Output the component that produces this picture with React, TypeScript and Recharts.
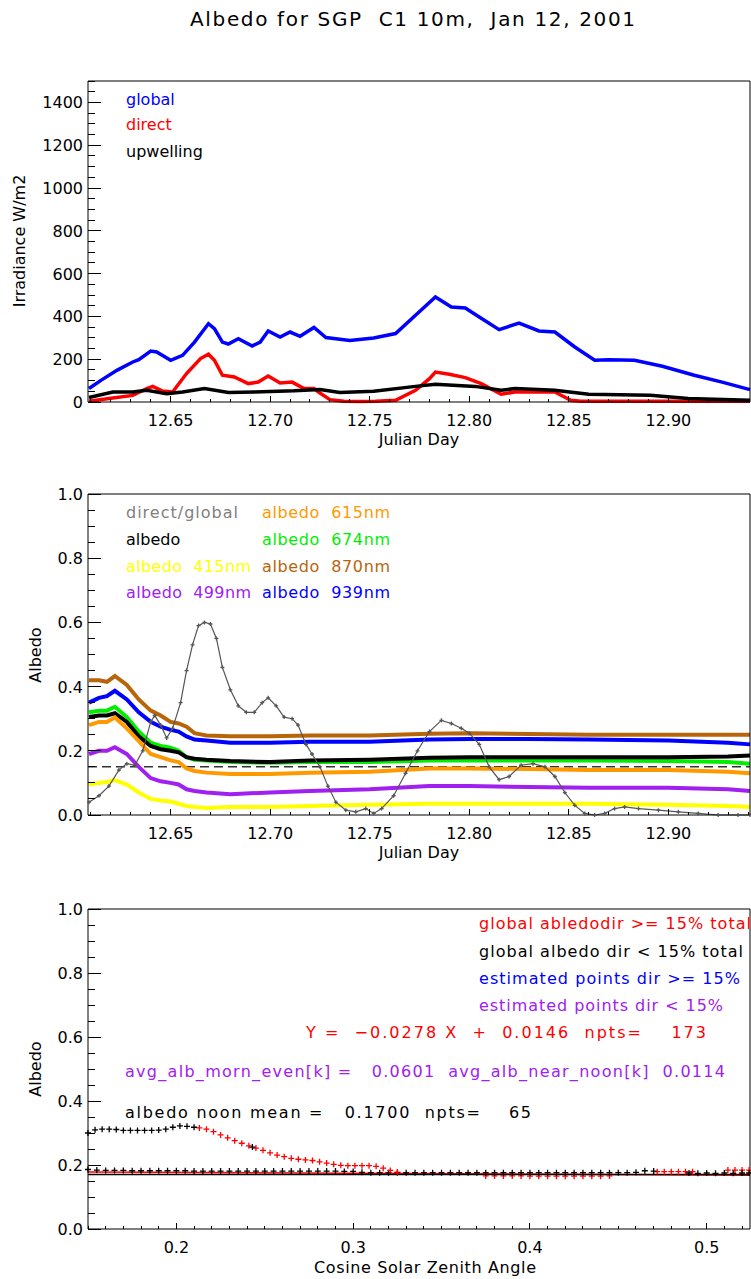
import React from 'react';
import { ComposedChart, Line, XAxis, YAxis, ReferenceLine } from 'recharts';

const FONT = '"DejaVu Sans", Verdana, sans-serif';

// ---------- Text ----------
const TITLE = 'Albedo for SGP  C1 10m,  Jan 12, 2001';

// ---------- Axes config ----------
const jdDomain = [12.6085, 12.941];
const jdMajor = [12.65, 12.7, 12.75, 12.8, 12.85, 12.9];
const jdLabels = ['12.65', '12.70', '12.75', '12.80', '12.85', '12.90'];
const irrDomain = [0, 1500];
const irrMajor = [0, 200, 400, 600, 800, 1000, 1200, 1400];
const albDomain = [0, 1];
const albMajor = [0, 0.2, 0.4, 0.6, 0.8, 1.0];
const cosDomain = [0.15, 0.5245];
const cosMajor = [0.2, 0.3, 0.4, 0.5];

// ---------- Panel 1: irradiance ----------
const globalX = [12.609, 12.615, 12.623, 12.631, 12.634, 12.640, 12.643, 12.650, 12.656, 12.662, 12.669, 12.672, 12.676, 12.679, 12.684, 12.691, 12.695, 12.699, 12.705, 12.710, 12.715, 12.722, 12.728, 12.740, 12.752, 12.763, 12.773, 12.783, 12.791, 12.798, 12.805, 12.815, 12.825, 12.835, 12.843, 12.853, 12.863, 12.870, 12.883, 12.897, 12.913, 12.927, 12.941];
const globalY = [63, 101, 148, 187, 198, 238, 234, 195, 218, 280, 366, 343, 280, 271, 296, 262, 280, 332, 304, 327, 307, 348, 301, 288, 299, 320, 405, 491, 444, 439, 397, 338, 369, 332, 327, 257, 195, 198, 195, 167, 125, 93, 58];
const directX = [12.609, 12.619, 12.631, 12.638, 12.641, 12.646, 12.651, 12.658, 12.665, 12.669, 12.672, 12.676, 12.682, 12.689, 12.694, 12.699, 12.705, 12.711, 12.717, 12.722, 12.725, 12.730, 12.737, 12.745, 12.753, 12.763, 12.773, 12.780, 12.783, 12.790, 12.798, 12.806, 12.816, 12.823, 12.835, 12.843, 12.851, 12.856, 12.900, 12.941];
const directY = [3, 16, 31, 63, 73, 51, 47, 133, 203, 223, 195, 125, 117, 86, 93, 121, 89, 93, 63, 63, 42, 11, 3, 2, 3, 8, 55, 109, 140, 130, 114, 86, 36, 47, 47, 47, 8, 3, 3, 3];
const upX = [12.609, 12.621, 12.631, 12.638, 12.648, 12.656, 12.667, 12.679, 12.692, 12.712, 12.725, 12.735, 12.752, 12.773, 12.783, 12.803, 12.816, 12.823, 12.843, 12.860, 12.891, 12.910, 12.941];
const upY = [21, 47, 47, 55, 39, 47, 63, 44, 47, 52, 58, 44, 50, 73, 83, 73, 55, 63, 55, 36, 31, 16, 8];

// ---------- Panel 2: albedo vs julian day ----------
const albX = [12.609, 12.614, 12.618, 12.622, 12.628, 12.634, 12.640, 12.645, 12.650, 12.654, 12.658, 12.662, 12.668, 12.680, 12.700, 12.720, 12.750, 12.780, 12.800, 12.830, 12.860, 12.900, 12.930, 12.941];
const alb870 = [0.42, 0.42, 0.415, 0.433, 0.405, 0.36, 0.325, 0.31, 0.29, 0.285, 0.275, 0.255, 0.248, 0.245, 0.245, 0.248, 0.248, 0.253, 0.255, 0.252, 0.25, 0.25, 0.25, 0.25];
const alb939 = [0.35, 0.365, 0.37, 0.387, 0.36, 0.32, 0.29, 0.275, 0.265, 0.26, 0.245, 0.235, 0.232, 0.225, 0.225, 0.228, 0.228, 0.235, 0.237, 0.237, 0.235, 0.232, 0.225, 0.22];
const alb674 = [0.32, 0.325, 0.325, 0.337, 0.305, 0.26, 0.225, 0.215, 0.21, 0.2, 0.18, 0.172, 0.17, 0.165, 0.163, 0.165, 0.165, 0.17, 0.17, 0.17, 0.17, 0.168, 0.165, 0.16];
const albBroad = [0.305, 0.31, 0.31, 0.317, 0.29, 0.245, 0.215, 0.205, 0.2, 0.195, 0.18, 0.175, 0.172, 0.168, 0.165, 0.17, 0.172, 0.178, 0.18, 0.18, 0.18, 0.18, 0.182, 0.185];
const alb615 = [0.28, 0.29, 0.29, 0.304, 0.27, 0.23, 0.19, 0.18, 0.17, 0.165, 0.145, 0.137, 0.132, 0.128, 0.128, 0.132, 0.135, 0.145, 0.145, 0.143, 0.14, 0.14, 0.135, 0.13];
const alb499 = [0.19, 0.2, 0.2, 0.211, 0.19, 0.15, 0.115, 0.105, 0.1, 0.095, 0.08, 0.075, 0.07, 0.065, 0.07, 0.075, 0.08, 0.09, 0.09, 0.087, 0.085, 0.085, 0.08, 0.075];
const alb415 = [0.095, 0.1, 0.103, 0.109, 0.095, 0.07, 0.05, 0.045, 0.042, 0.035, 0.028, 0.025, 0.022, 0.025, 0.025, 0.028, 0.032, 0.035, 0.035, 0.035, 0.035, 0.032, 0.028, 0.025];
const ratioX = [12.609, 12.614, 12.619, 12.624, 12.628, 12.632, 12.636, 12.640, 12.642, 12.645, 12.648, 12.651, 12.655, 12.658, 12.661, 12.664, 12.667, 12.670, 12.673, 12.676, 12.680, 12.684, 12.688, 12.692, 12.696, 12.699, 12.703, 12.707, 12.711, 12.714, 12.718, 12.721, 12.725, 12.729, 12.733, 12.738, 12.743, 12.748, 12.752, 12.756, 12.762, 12.768, 12.774, 12.780, 12.786, 12.791, 12.796, 12.800, 12.805, 12.810, 12.815, 12.820, 12.826, 12.832, 12.838, 12.843, 12.848, 12.853, 12.858, 12.863, 12.868, 12.873, 12.878, 12.885, 12.895, 12.905, 12.915, 12.925, 12.935, 12.941];
const ratioY = [0.04, 0.06, 0.09, 0.14, 0.16, 0.155, 0.2, 0.29, 0.31, 0.28, 0.24, 0.27, 0.35, 0.45, 0.53, 0.59, 0.6, 0.595, 0.55, 0.46, 0.39, 0.34, 0.32, 0.32, 0.35, 0.365, 0.34, 0.305, 0.3, 0.28, 0.22, 0.19, 0.15, 0.09, 0.04, 0.015, 0.01, 0.02, 0.005, 0.02, 0.06, 0.13, 0.2, 0.26, 0.295, 0.285, 0.27, 0.255, 0.22, 0.15, 0.11, 0.12, 0.155, 0.16, 0.15, 0.12, 0.07, 0.03, 0.005, 0.0, 0.005, 0.02, 0.025, 0.02, 0.015, 0.01, 0.005, 0.0, 0.0, 0.0];
const ratioThreshold = 0.15;

// ---------- Panel 3: albedo vs cosine SZA ----------
const hiBlackX = [0.150, 0.154, 0.158, 0.162, 0.166, 0.170, 0.174, 0.178, 0.182, 0.186, 0.190, 0.194, 0.198, 0.202, 0.206, 0.210, 0.243];
const hiBlackY = [0.300, 0.310, 0.312, 0.312, 0.311, 0.308, 0.308, 0.308, 0.308, 0.308, 0.309, 0.312, 0.318, 0.322, 0.321, 0.318, 0.256];
const hiRedX = [0.213, 0.217, 0.221, 0.225, 0.229, 0.233, 0.237, 0.241, 0.245, 0.249, 0.253, 0.257, 0.261, 0.265, 0.269, 0.273, 0.277, 0.281, 0.285, 0.289, 0.293, 0.297, 0.301, 0.305, 0.309, 0.313, 0.317, 0.321, 0.325];
const hiRedY = [0.316, 0.312, 0.304, 0.294, 0.285, 0.276, 0.268, 0.260, 0.253, 0.246, 0.238, 0.231, 0.226, 0.221, 0.218, 0.216, 0.214, 0.210, 0.206, 0.202, 0.199, 0.198, 0.198, 0.198, 0.198, 0.196, 0.190, 0.183, 0.178];
const loBlackX = [0.150, 0.155, 0.160, 0.165, 0.170, 0.175, 0.180, 0.185, 0.190, 0.195, 0.200, 0.205, 0.210, 0.215, 0.220, 0.225, 0.230, 0.235, 0.240, 0.245, 0.250, 0.255, 0.260, 0.265, 0.270, 0.275, 0.280, 0.285, 0.290, 0.295, 0.300, 0.305, 0.310, 0.315, 0.320, 0.325, 0.330, 0.335, 0.340, 0.345, 0.350, 0.355, 0.360, 0.365, 0.370, 0.375, 0.380, 0.385, 0.390, 0.395, 0.400, 0.405, 0.410, 0.415, 0.420, 0.425, 0.430, 0.435, 0.440, 0.445, 0.450, 0.455, 0.460, 0.465, 0.470, 0.490, 0.495, 0.500, 0.505, 0.510, 0.515, 0.520, 0.524];
const loBlackY = [0.186, 0.184, 0.183, 0.183, 0.183, 0.182, 0.182, 0.182, 0.182, 0.182, 0.182, 0.182, 0.181, 0.181, 0.181, 0.181, 0.181, 0.181, 0.181, 0.181, 0.181, 0.181, 0.181, 0.181, 0.181, 0.181, 0.181, 0.181, 0.181, 0.180, 0.180, 0.177, 0.176, 0.176, 0.176, 0.176, 0.176, 0.176, 0.176, 0.176, 0.176, 0.176, 0.176, 0.176, 0.176, 0.176, 0.176, 0.176, 0.176, 0.176, 0.176, 0.176, 0.176, 0.176, 0.176, 0.176, 0.176, 0.176, 0.176, 0.176, 0.176, 0.176, 0.177, 0.182, 0.181, 0.175, 0.174, 0.175, 0.174, 0.175, 0.174, 0.175, 0.175];
const loRedX = [0.375, 0.380, 0.385, 0.390, 0.395, 0.400, 0.405, 0.410, 0.415, 0.420, 0.425, 0.430, 0.435, 0.440, 0.445, 0.472, 0.476, 0.480, 0.484, 0.488, 0.492, 0.512, 0.516, 0.520, 0.524];
const loRedY = [0.166, 0.166, 0.166, 0.166, 0.166, 0.165, 0.165, 0.165, 0.165, 0.165, 0.165, 0.165, 0.165, 0.165, 0.166, 0.179, 0.179, 0.179, 0.179, 0.179, 0.179, 0.184, 0.184, 0.184, 0.184];
const fitX = [0.15, 0.5245];
const fitY = [0.178, 0.168];
const noonMean = 0.17;

const zip = (xs: number[], ys: number[]) => xs.map((x, i) => ({ x, v: ys[i] }));

function steps(a: number, b: number, s: number) {
  const out: number[] = [];
  for (let k = 0; a + k * s <= b + 1e-9; k++) out.push(Math.round((a + k * s) * 1e6) / 1e6);
  return out;
}

const isMajor = (majors: number[], v: number) => majors.some((m) => Math.abs(m - v) < 1e-6);

function makeTick(side: string, majors: number[], fmt: ((v: number) => string) | null, majorLen: number, minorLen: number) {
  return (props: any) => {
    const { x, y, payload, index } = props;
    const v = payload.value;
    const major = isMajor(majors, v);
    const len = major ? majorLen : minorLen;
    let line = null;
    let label = null;
    const ls = { stroke: '#000', strokeWidth: 1, shapeRendering: 'crispEdges' as const };
    if (side === 'left') {
      line = <line x1={x} y1={y} x2={x + len} y2={y} {...ls} />;
      if (major && fmt) label = <text x={x - 5} y={y + 6} textAnchor="end" fontSize={16} fontFamily={FONT} fill="#000">{fmt(v)}</text>;
    } else if (side === 'right') {
      line = <line x1={x} y1={y} x2={x - len} y2={y} {...ls} />;
    } else if (side === 'bottom') {
      line = <line x1={x} y1={y} x2={x} y2={y - len} {...ls} />;
      if (major && fmt) label = <text x={x} y={y + 24} textAnchor="middle" fontSize={16} fontFamily={FONT} fill="#000">{fmt(v)}</text>;
    } else {
      line = <line x1={x} y1={y} x2={x} y2={y + len} {...ls} />;
    }
    return <g key={`t${side}${index}`}>{line}{label}</g>;
  };
}

const plusDot = (color: string, half: number) => (p: any) => {
  const { cx, cy, index } = p;
  if (cx == null || cy == null) return <g key={`d${index}`} />;
  return <path key={`d${index}`} d={`M${cx - half},${cy}h${2 * half}M${cx},${cy - half}v${2 * half}`} stroke={color} strokeWidth={1.3} fill="none" />;
};

const jdTicks = steps(12.61, 12.94, 0.01);
const irrTicks = steps(0, 1500, 50);
const albTicks = steps(0, 1, 0.05);
const cosTicks = steps(0.15, 0.52, 0.01);

const fmtJd = (v: number) => jdLabels[jdMajor.findIndex((m) => Math.abs(m - v) < 1e-6)] ?? '';
const fmtInt = (v: number) => String(Math.round(v));
const fmt1 = (v: number) => v.toFixed(1);

const axisLine = { stroke: '#000', strokeWidth: 1 };

function axes(xDomain: number[], xTicks: number[], xMajor: number[], xFmt: (v: number) => string, yDomain: number[], yTicks: number[], yMajor: number[], yFmt: (v: number) => string, xH: number) {
  return [
    <XAxis key="xb" xAxisId="b" type="number" dataKey="x" domain={xDomain} ticks={xTicks} interval={0} tickLine={false} tickSize={0} tickMargin={0} height={xH} axisLine={axisLine} tick={makeTick('bottom', xMajor, xFmt, 6.4, 3.2)} />,
    <XAxis key="xt" xAxisId="t" orientation="top" type="number" dataKey="x" domain={xDomain} ticks={xTicks} interval={0} tickLine={false} tickSize={0} tickMargin={0} height={1} axisLine={axisLine} tick={makeTick('top', xMajor, null, 6.4, 3.2)} />,
    <YAxis key="yl" yAxisId="l" type="number" domain={yDomain} ticks={yTicks} interval={0} tickLine={false} tickSize={0} tickMargin={0} width={88} axisLine={axisLine} tick={makeTick('left', yMajor, yFmt, 13, 6.6)} />,
    <YAxis key="yr" yAxisId="r" orientation="right" type="number" domain={yDomain} ticks={yTicks} interval={0} tickLine={false} tickSize={0} tickMargin={0} width={1} axisLine={axisLine} tick={makeTick('right', yMajor, null, 13, 6.6)} />,
  ];
}

const common = { xAxisId: 'b', yAxisId: 'l', dataKey: 'v', isAnimationActive: false, dot: false, activeDot: false, type: 'linear' as const };

const T = (p: any) => <text fontFamily={FONT} fontSize={16} style={{ whiteSpace: 'pre' }} {...p} />;

export default function App() {
  return (
    <div style={{ position: 'absolute', left: 0, top: 0, width: 751, height: 1279, background: '#fff', overflow: 'hidden' }}>
      <div style={{ position: 'absolute', left: 0, top: 0 }}>
        <ComposedChart width={751} height={460} margin={{ top: 80, right: 0, bottom: 0, left: 0 }}>
          {axes(jdDomain, jdTicks, jdMajor, fmtJd, irrDomain, irrTicks, irrMajor, fmtInt, 58)}
          <Line {...common} data={zip(globalX, globalY)} stroke="#0000ff" strokeWidth={3.5} />
          <Line {...common} data={zip(directX, directY)} stroke="#ff0000" strokeWidth={3.5} />
          <Line {...common} data={zip(upX, upY)} stroke="#000000" strokeWidth={3.5} />
        </ComposedChart>
      </div>
      <div style={{ position: 'absolute', left: 0, top: 470 }}>
        <ComposedChart width={751} height={420} margin={{ top: 23, right: 0, bottom: 0, left: 0 }}>
          {axes(jdDomain, jdTicks, jdMajor, fmtJd, albDomain, albTicks, albMajor, fmt1, 75)}
          <ReferenceLine xAxisId="b" yAxisId="l" y={ratioThreshold} stroke="#333" strokeWidth={1.5} strokeDasharray="9 5" />
          <Line {...common} data={zip(albX, alb870)} stroke="#b8650a" strokeWidth={4} />
          <Line {...common} data={zip(albX, alb939)} stroke="#0000ff" strokeWidth={4} />
          <Line {...common} data={zip(albX, alb674)} stroke="#00ee00" strokeWidth={4} />
          <Line {...common} data={zip(albX, albBroad)} stroke="#000000" strokeWidth={4} />
          <Line {...common} data={zip(albX, alb615)} stroke="#ff9900" strokeWidth={4} />
          <Line {...common} data={zip(albX, alb499)} stroke="#a020f0" strokeWidth={4} />
          <Line {...common} data={zip(albX, alb415)} stroke="#ffff00" strokeWidth={4} />
          <Line {...common} data={zip(ratioX, ratioY)} stroke="#555555" strokeWidth={1.2} dot={plusDot('#555555', 2)} />
        </ComposedChart>
      </div>
      <div style={{ position: 'absolute', left: 0, top: 889 }}>
        <ComposedChart width={751} height={390} margin={{ top: 19, right: 0, bottom: 0, left: 0 }}>
          {axes(cosDomain, cosTicks, cosMajor, fmt1, albDomain, albTicks, albMajor, fmt1, 50)}
          <Line {...common} data={zip(fitX, fitY)} stroke="#ff0000" strokeWidth={1.5} />
          <ReferenceLine xAxisId="b" yAxisId="l" y={noonMean} stroke="#000" strokeWidth={1.5} />
          <Line {...common} data={zip(loRedX, loRedY)} stroke="none" dot={plusDot('#ff0000', 3)} />
          <Line {...common} data={zip(loBlackX, loBlackY)} stroke="none" dot={plusDot('#000000', 3)} />
          <Line {...common} data={zip(hiRedX, hiRedY)} stroke="none" dot={plusDot('#ff0000', 3)} />
          <Line {...common} data={zip(hiBlackX, hiBlackY)} stroke="none" dot={plusDot('#000000', 3)} />
        </ComposedChart>
      </div>
      <svg width={751} height={1279} style={{ position: 'absolute', left: 0, top: 0, pointerEvents: 'none' }}>
        <T x={190} y={26} fontSize={20} textLength={445} lengthAdjust="spacing">{TITLE}</T>
        {/* panel 1 */}
        <T x={126} y={105} fill="#0000ff">global</T>
        <T x={126} y={130} fill="#ff0000">direct</T>
        <T x={126} y={157} fill="#000">upwelling</T>
        <T x={419} y={445} textAnchor="middle">Julian Day</T>
        <T transform="translate(25,241) rotate(-90)" textAnchor="middle">Irradiance W/m2</T>
        {/* panel 2 */}
        <T x={126} y={518} fill="#808080" textLength={112} lengthAdjust="spacing">direct/global</T>
        <T x={126} y={545} fill="#000">albedo</T>
        <T x={126} y={572} fill="#ffff00" textLength={125} lengthAdjust="spacing">albedo  415nm</T>
        <T x={126} y={598} fill="#a020f0" textLength={125} lengthAdjust="spacing">albedo  499nm</T>
        <T x={262} y={518} fill="#ff9900" textLength={128} lengthAdjust="spacing">albedo  615nm</T>
        <T x={262} y={545} fill="#00ee00" textLength={128} lengthAdjust="spacing">albedo  674nm</T>
        <T x={262} y={572} fill="#b8650a" textLength={128} lengthAdjust="spacing">albedo  870nm</T>
        <T x={262} y={598} fill="#0000ff" textLength={128} lengthAdjust="spacing">albedo  939nm</T>
        <T x={419} y={858} textAnchor="middle">Julian Day</T>
        <T transform="translate(41,655) rotate(-90)" textAnchor="middle">Albedo</T>
        {/* panel 3 */}
        <T x={479} y={929} fill="#ff0000" textLength={272} lengthAdjust="spacing">global abledodir &gt;= 15% total</T>
        <T x={479} y={957} fill="#000" textLength={264} lengthAdjust="spacing">global albedo dir &lt; 15% total</T>
        <T x={479} y={984} fill="#0000ff" textLength={261} lengthAdjust="spacing">estimated points dir &gt;= 15%</T>
        <T x={479} y={1011} fill="#a020f0" textLength={244} lengthAdjust="spacing">estimated points dir &lt; 15%</T>
        <T x={306} y={1038} fill="#ff0000" textLength={400} lengthAdjust="spacing">{'Y =  \u22120.0278 X  +  0.0146  npts=    173'}</T>
        <T x={125} y={1077} fill="#a020f0" textLength={600} lengthAdjust="spacing">{'avg_alb_morn_even[k] =   0.0601  avg_alb_near_noon[k]  0.0114'}</T>
        <T x={125} y={1118} fill="#000" textLength={406} lengthAdjust="spacing">{'albedo noon mean =   0.1700  npts=    65'}</T>
        <T x={425} y={1273} textAnchor="middle" textLength={222} lengthAdjust="spacing">Cosine Solar Zenith Angle</T>
        <T transform="translate(41,1069) rotate(-90)" textAnchor="middle">Albedo</T>
      </svg>
    </div>
  );
}
